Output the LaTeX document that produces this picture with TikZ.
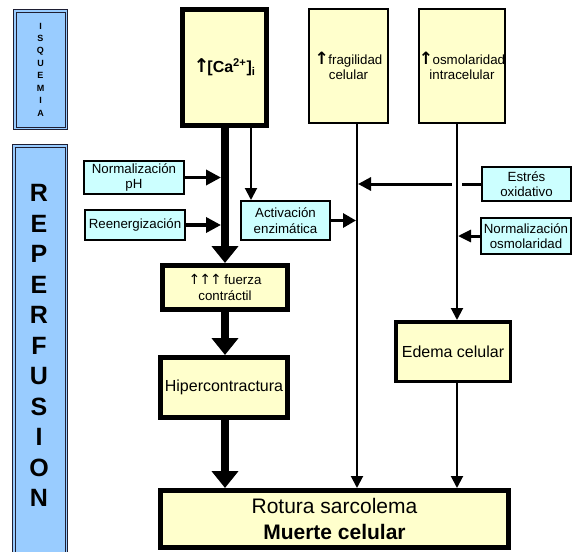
\documentclass[tikz,border=0pt]{standalone}
\usepackage{fontspec}
\setmainfont{Liberation Sans}
\newfontfamily\arrowfont{DejaVu Sans}
\usetikzlibrary{arrows.meta,calc}
\definecolor{yel}{RGB}{255,255,204}
\definecolor{cyn}{RGB}{204,255,255}
\definecolor{blu}{RGB}{153,204,255}
\definecolor{bord}{RGB}{30,30,50}
\newcommand{\bigup}[2]{{\arrowfont\bfseries\fontsize{#1}{#1}\selectfont ↑}\kern#2}
\newcommand{\thinup}{{\arrowfont\fontsize{14}{14}\selectfont ↑}\kern-1pt}
\begin{document}
\begin{tikzpicture}[x=1pt,y=-1pt,
 box/.style={draw, inner sep=0pt, align=center, font=\fontsize{13.3}{15.5}\selectfont},
 ybox/.style={box, fill=yel},
 cbox/.style={box, fill=cyn, line width=2pt},
 bbox/.style={draw=bord, double=blu, double distance=1.5pt, line width=1pt, fill=blu, inner sep=0pt, align=center},
 thickarr/.style={line width=7.5pt, -{Triangle[length=17pt,width=26pt]}},
 thinarr/.style={line width=2pt, -{Triangle[length=12pt,width=12pt]}},
 medarr/.style={line width=3.5pt, -{Triangle[length=15pt,width=15pt]}},
]
\clip (0,0) rectangle (574,552);
\fill[white] (0,0) rectangle (574,552);

% side bars
\node[bbox, minimum width=51.5pt, minimum height=117.5pt, font=\bfseries\fontsize{9}{12.43}\selectfont] (isq) at (40.5,69.5) {I\\S\\Q\\U\\E\\M\\I\\A};
\node[bbox, minimum width=52.5pt, minimum height=417.5pt] (rep) at (40,354.5) {};
\node[inner sep=0pt, align=center, font=\bfseries\fontsize{25}{30.5}\selectfont] (reptext) at (39,345.5) {R\\E\\P\\E\\R\\F\\U\\S\\I\\O\\N};

% top boxes
\node[ybox, line width=5pt, minimum width=84pt, minimum height=116pt, font=\bfseries\fontsize{16}{19}\selectfont] (ca) at (224.5,67.5) {\bigup{19}{-2pt}[Ca\textsuperscript{2+}]\textsubscript{i}};
\node[ybox, line width=2pt, minimum width=79pt, minimum height=114pt] (frag) at (348.5,66) {\bigup{17}{-0.5pt}fragilidad\\celular};
\node[ybox, line width=2pt, minimum width=84pt, minimum height=114pt] (osm) at (462,66) {\bigup{17}{-0.5pt}osmolaridad\\intracelular};

% cyan boxes
\node[cbox, minimum width=100pt, minimum height=33pt] (nph) at (134,177.5) {Normalización\\pH};
\node[cbox, minimum width=100pt, minimum height=30pt] (reen) at (135,225) {Reenergización};
\node[cbox, minimum width=89pt, minimum height=39pt] (act) at (285.5,220.5) {Activación\\enzimática};
\node[cbox, minimum width=89pt, minimum height=34pt] (estres) at (526.5,184) {Estrés\\oxidativo};
\node[cbox, minimum width=90pt, minimum height=36pt] (nosm) at (526,236) {Normalización\\osmolaridad};

% lower yellow boxes
\node[ybox, line width=5pt, minimum width=125pt, minimum height=44pt] (fuerza) at (225,287.5) {\thinup\thinup\thinup{} fuerza\\contráctil};
\node[ybox, line width=5pt, minimum width=127pt, minimum height=60pt, font=\fontsize{16}{19}\selectfont] (hiper) at (224,387.5) {Hipercontractura};
\node[ybox, line width=3.5pt, minimum width=114.5pt, minimum height=59.5pt, font=\fontsize{16}{19}\selectfont] (edema) at (453,351.5) {Edema celular};
\node[ybox, line width=5pt, minimum width=348pt, minimum height=57pt, font=\fontsize{21}{26}\selectfont] (rot) at (334.5,519) {Rotura sarcolema\\\textbf{Muerte celular}};

% reference columns
\coordinate (tx) at (225,0);
\coordinate (tl) at (221,0);
\coordinate (cx) at (251,0);
\coordinate (fx) at (357,0);
\coordinate (fxl) at (356,0);
\coordinate (fxr) at (358,0);
\coordinate (ox) at (457,0);
\coordinate (oxr) at (458,0);

% connectors
\draw[thickarr] (ca.south -| tx) -- (fuerza.north -| tx);
\draw[thinarr] (ca.south -| cx) -- (act.north -| cx);
\draw[medarr] (nph.east) -- (nph.east -| tl);
\draw[medarr] (reen.east) -- (reen.east -| tl);
\draw[medarr, line width=3pt, -{Triangle[length=13pt,width=14pt]}] (act.east) -- (act.east -| fxl);
\draw[medarr, line width=3pt, -{Triangle[length=13pt,width=13pt]}] (estres.west) -- (estres.west -| fxr);
\draw[white, line width=5pt] ($(estres.west -| ox)+(-5,0)$) -- ($(estres.west -| ox)+(5,0)$);
\draw[medarr, line width=3pt, -{Triangle[length=13pt,width=12pt]}] (nosm.west) -- (nosm.west -| oxr);
\draw[thinarr] (frag.south -| fx) -- (rot.north -| fx);
\draw[thinarr] (osm.south -| ox) -- (edema.north -| ox);
\draw[thinarr] (edema.south -| ox) -- (rot.north -| ox);
\draw[thickarr] (fuerza.south -| tx) -- (hiper.north -| tx);
\draw[thickarr] (hiper.south -| tx) -- (rot.north -| tx);
\end{tikzpicture}
\end{document}
